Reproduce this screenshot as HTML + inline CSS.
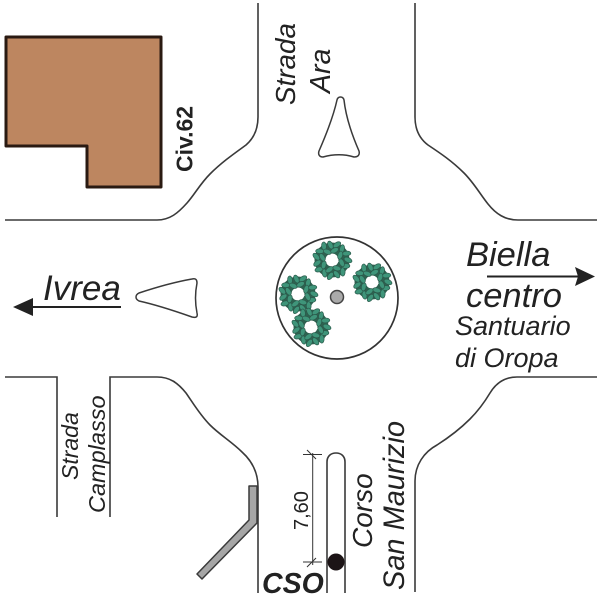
<!DOCTYPE html>
<html>
<head>
<meta charset="utf-8">
<style>
html,body{margin:0;padding:0;background:#fff;width:600px;height:600px;overflow:hidden}
svg{display:block}
text{font-family:"Liberation Sans",sans-serif;fill:#222}
</style>
</head>
<body>
<svg width="600" height="600" viewBox="0 0 600 600" xmlns="http://www.w3.org/2000/svg">
<defs>
<ellipse id="lf" rx="4.200" ry="2.400" fill="#3f957a" stroke="#2b5a4b" stroke-width=".7"/>
<g id="tree">
<circle r="12" fill="none" stroke="#2e6250" stroke-width="11"/>
<use href="#lf" transform="rotate(0) translate(16 0) rotate(25)"/>
<use href="#lf" transform="rotate(24) translate(15 0) rotate(-30)"/>
<use href="#lf" transform="rotate(48) translate(16 0) rotate(40)"/>
<use href="#lf" transform="rotate(72) translate(15 0) rotate(-20)"/>
<use href="#lf" transform="rotate(96) translate(16 0) rotate(30)"/>
<use href="#lf" transform="rotate(120) translate(15 0) rotate(-40)"/>
<use href="#lf" transform="rotate(144) translate(16 0) rotate(20)"/>
<use href="#lf" transform="rotate(168) translate(15 0) rotate(-25)"/>
<use href="#lf" transform="rotate(192) translate(16 0) rotate(35)"/>
<use href="#lf" transform="rotate(216) translate(15 0) rotate(-35)"/>
<use href="#lf" transform="rotate(240) translate(16 0) rotate(25)"/>
<use href="#lf" transform="rotate(264) translate(15 0) rotate(-20)"/>
<use href="#lf" transform="rotate(288) translate(16 0) rotate(40)"/>
<use href="#lf" transform="rotate(312) translate(15 0) rotate(-30)"/>
<use href="#lf" transform="rotate(336) translate(16 0) rotate(20)"/>
<use href="#lf" transform="rotate(15) translate(10 0) rotate(50)"/>
<use href="#lf" transform="rotate(60) translate(9.500 0) rotate(-45)"/>
<use href="#lf" transform="rotate(105) translate(10 0) rotate(40)"/>
<use href="#lf" transform="rotate(150) translate(9.500 0) rotate(-50)"/>
<use href="#lf" transform="rotate(195) translate(10 0) rotate(45)"/>
<use href="#lf" transform="rotate(240) translate(9.500 0) rotate(-40)"/>
<use href="#lf" transform="rotate(285) translate(10 0) rotate(50)"/>
<use href="#lf" transform="rotate(330) translate(9.500 0) rotate(-45)"/>
<path d="M-5 -3L-1 -2L3 -6L4 -1L7 2L2 2L0 6L-3 2L-7 1Z" fill="#fff"/>
</g>
</defs>

<!-- building -->
<path d="M6 37H161V187H87V146H6Z" fill="#bd8660" stroke="#2a1a12" stroke-width="3" stroke-linejoin="round"/>

<!-- road edges -->
<g fill="none" stroke="#3a3a3a" stroke-width="1.600">
<path d="M258 3V117C258 130 253 139 246 145C235 153 222 162 210 174C200 184 195 194 187 203C178 213 170 220 157 220H5"/>
<path d="M415 3V117C415 130 420 139 428 145C440 153 452 161 464 173C474 183 480 194 488 204C496 214 505 220 518 220H597"/>
<path d="M597 377H517C505 377 496 383 490 393C484 403 478 411 470 419C460 429 448 438 437 445C424 452 415 465 415 481V592"/>
<path d="M5 377H57V517"/>
<path d="M110 517V377H157C170 377 178 383 186 393C193 403 200 415 210 425C220 435 232 442 242 452C252 461 258 472 258 487V593"/>
<path d="M327 593V462C327 456 331 453 336 453C341 453 345 456 345 462V593"/>
</g>

<!-- barrier -->
<path d="M249 486H257V523L202 579L197 574L249 520Z" fill="#a6a6a6" stroke="#3a3a3a" stroke-width="1.500" stroke-linejoin="round"/>

<!-- dimension -->
<g stroke="#333" stroke-width="1" fill="none">
<path d="M312.700 453V565"/>
<path d="M303 454.500H322M307 450L316 459"/>
<path d="M303 562H322M307 567L316 558"/>
</g>
<circle cx="336" cy="562" r="8.500" fill="#1c1416"/>

<!-- traffic islands -->
<g fill="#fff" stroke="#3a3a3a" stroke-width="1.500" stroke-linejoin="round">
<path d="M337 100C338 96 343 96 344 100C346 118 352 135 359 151C360 155 358 157 354 157C344 154 334 154 323 157C319 157 318 154 319 151C326 135 333 118 337 100Z"/>
<path d="M139 293C157 287 175 282 192 279C196 278 197 280 197 283C195 293 195 303 197 313C198 317 196 318 192 317C175 311 157 305 139 301C135 299 135 295 139 293Z"/>
</g>

<!-- roundabout -->
<circle cx="337" cy="298" r="61" fill="#fff" stroke="#333" stroke-width="1.700"/>
<use href="#tree" x="332" y="260"/>
<use href="#tree" x="372" y="282"/>
<use href="#tree" x="298" y="294"/>
<use href="#tree" x="311" y="327"/>
<circle cx="337" cy="297" r="6.500" fill="#aaa" stroke="#444" stroke-width="1.500"/>

<!-- arrows -->
<path d="M487 276.500H578" stroke="#222" stroke-width="2"/>
<path d="M595 276.500L575 267L578 276.500L575 286Z" fill="#222"/>
<path d="M33 307H121" stroke="#222" stroke-width="2"/>
<path d="M13 307L33 298V316Z" fill="#222"/>

<!-- horizontal labels -->
<g font-style="italic">
<text x="466" y="266" font-size="34.500">Biella</text>
<text x="466" y="307" font-size="34.500">centro</text>
<text x="455" y="335" font-size="27">Santuario</text>
<text x="455" y="367" font-size="27">di Oropa</text>
<text x="43" y="300" font-size="35">Ivrea</text>
</g>
<text x="262" y="593" font-size="28.500" font-weight="bold" font-style="italic">CSO</text>

<!-- rotated labels -->
<g font-style="italic">
<text transform="translate(295 105) rotate(-90)" font-size="27.800">Strada</text>
<text transform="translate(330 93) rotate(-90)" font-size="28.500">Ara</text>
<text transform="translate(78 480) rotate(-90)" font-size="23">Strada</text>
<text transform="translate(105 513) rotate(-90)" font-size="23.500">Camplasso</text>
<text transform="translate(372 548) rotate(-90)" font-size="28">Corso</text>
<text transform="translate(404 590) rotate(-90)" font-size="30" textLength="169" lengthAdjust="spacingAndGlyphs">San Maurizio</text>
</g>
<text transform="translate(308 530) rotate(-90)" font-size="20">7,60</text>
<text transform="translate(192.700 172) rotate(-90)" font-size="23" font-weight="bold">Civ.62</text>
</svg>
</body>
</html>
